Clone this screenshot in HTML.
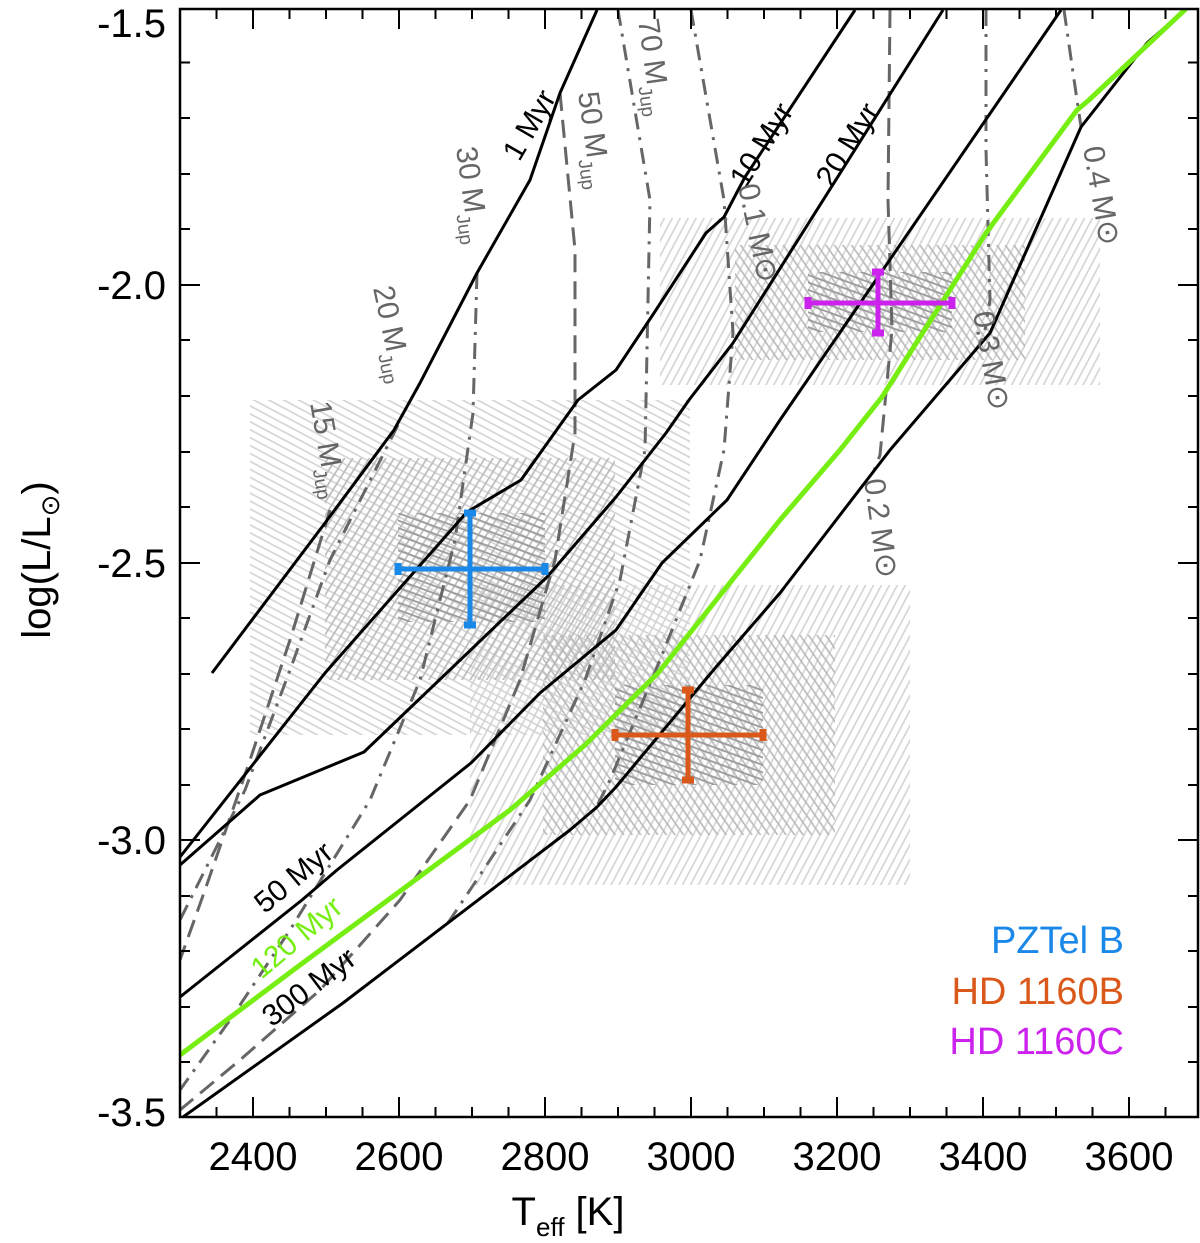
<!DOCTYPE html>
<html><head><meta charset="utf-8"><style>
html,body{margin:0;padding:0;background:#fff;}
svg{display:block;font-family:"Liberation Sans",Arial,sans-serif;}
</style></head><body>
<svg width="1200" height="1243" viewBox="0 0 1200 1243" xmlns="http://www.w3.org/2000/svg">
<defs>
<clipPath id="pc"><rect x="180" y="9" width="1018" height="1108"/></clipPath>
<clipPath id="tc"><polygon points="180,9 1198,9 1198,10 1185,10 1147,43 1081,127 990,333 890,450 780,593 716,667 616,787 597,807 570,830 343,1003 183,1117 180,1117"/></clipPath>
<pattern id="hA" width="7" height="7" patternUnits="userSpaceOnUse" patternTransform="rotate(28)"><line x1="0" y1="3" x2="7" y2="3" stroke="#d2d2d2" stroke-width="1.6"/></pattern>
<pattern id="hB" width="7" height="7" patternUnits="userSpaceOnUse" patternTransform="rotate(-58)"><line x1="0" y1="3" x2="7" y2="3" stroke="#b8b8b8" stroke-width="1.6"/></pattern>
<pattern id="hC" width="7" height="7" patternUnits="userSpaceOnUse" patternTransform="rotate(20)"><line x1="0" y1="3" x2="7" y2="3" stroke="#9a9a9a" stroke-width="1.8"/></pattern>
<pattern id="hA2" width="7" height="7" patternUnits="userSpaceOnUse" patternTransform="rotate(-62)"><line x1="0" y1="3" x2="7" y2="3" stroke="#d2d2d2" stroke-width="1.6"/></pattern>
<pattern id="hB2" width="7" height="7" patternUnits="userSpaceOnUse" patternTransform="rotate(55)"><line x1="0" y1="3" x2="7" y2="3" stroke="#b8b8b8" stroke-width="1.6"/></pattern>
</defs>

<g clip-path="url(#pc)">
<rect x="250" y="400" width="440" height="335" fill="url(#hA)"/>
<rect x="470" y="585" width="440" height="300" fill="url(#hA2)"/>
<rect x="660" y="218" width="440" height="167" fill="url(#hA2)"/>
<rect x="325" y="458" width="290" height="222" fill="url(#hB)"/>
<rect x="543" y="635" width="292" height="200" fill="url(#hB2)"/>
<rect x="735" y="245" width="290" height="115" fill="url(#hB2)"/>
<rect x="398" y="513" width="147" height="109" fill="url(#hC)"/>
<rect x="615" y="685" width="148" height="100" fill="url(#hC)"/>
<rect x="808" y="272" width="144" height="60" fill="url(#hC)"/>

<g fill="none" stroke="#666" stroke-width="3" clip-path="url(#tc)">
<polyline stroke-dasharray="18,9" points="330,510 290,640 250,760 205,890 180,960"/>
<polyline stroke-dasharray="16,8,3,8" points="398,425 330,560 290,670 245,790 200,880 180,920"/>
<polyline stroke-dasharray="16,8,3,8" points="477,273 473,413 455,540 420,680 370,800 290,930 230,1020 180,1090"/>
<polyline stroke-dasharray="18,9" points="560,93 575,250 575,433 555,560 520,680 470,800 400,900 320,990 240,1060 180,1110"/>
<polyline stroke-dasharray="16,8,3,8" points="618,10 650,200 645,450 620,580 585,680 530,800 450,920 370,1020 290,1100 270,1117"/>
<polyline stroke-dasharray="16,8,3,8" points="691,10 724,200 733,333 724,450 700,560 660,660 610,780 560,880 500,980 440,1070 410,1117"/>
<polyline stroke-dasharray="18,9" points="890,10 888,200 892,330 880,455 840,560 770,690 700,800 640,880 590,950 540,1040 500,1117"/>
<polyline stroke-dasharray="16,8,3,8" points="986,10 986,150 990,300 985,330"/>
<polyline stroke-dasharray="16,8,3,8" points="1064,10 1077,100 1083,140"/>
</g>

<g fill="none" stroke="#000" stroke-width="3" stroke-linejoin="round">
<polyline points="212,673 325,523 394,430 420,383 477,273 530,180 560,93 597,10"/>
<polyline points="180,857 325,673 467,512 521,480 578,400 616,370 654,313 706,233 724,217 745,177 855,10"/>
<polyline points="180,865 260,795 364,752 547,577 616,497 666,433 689,400 733,343 943,10"/>
<polyline points="180,997 302,900 337,870 471,763 540,693 616,630 662,563 727,500 780,420 878,277 1061,10"/>
<polyline points="183,1117 343,1003 570,830 597,807 616,787 716,667 780,593 890,450 990,333 1081,127 1147,43 1185,10"/>
</g>
<polyline fill="none" stroke="#77ee11" stroke-width="5" stroke-linejoin="round" points="180,1055 300,965 510,810 585,745 658,673 674,653 780,520 840,450 882,397 986,233 1077,110 1089,100 1190,5"/>
</g>

<g stroke-width="5" fill="none">
<g stroke="#1a88e8">
<line x1="398" y1="569" x2="545" y2="569"/><line x1="470" y1="513" x2="470" y2="625"/>
<line x1="398" y1="563" x2="398" y2="575" stroke-width="7"/><line x1="545" y1="563" x2="545" y2="575" stroke-width="7"/>
<line x1="464" y1="513" x2="476" y2="513" stroke-width="7"/><line x1="464" y1="625" x2="476" y2="625" stroke-width="7"/>
</g>
<g stroke="#d9581a">
<line x1="615" y1="735" x2="763" y2="735"/><line x1="688" y1="690" x2="688" y2="780"/>
<line x1="615" y1="729" x2="615" y2="741" stroke-width="7"/><line x1="763" y1="729" x2="763" y2="741" stroke-width="7"/>
<line x1="682" y1="690" x2="694" y2="690" stroke-width="7"/><line x1="682" y1="780" x2="694" y2="780" stroke-width="7"/>
</g>
<g stroke="#cc22ee">
<line x1="808" y1="303" x2="952" y2="303"/><line x1="878" y1="272" x2="878" y2="333"/>
<line x1="808" y1="297" x2="808" y2="309" stroke-width="7"/><line x1="952" y1="297" x2="952" y2="309" stroke-width="7"/>
<line x1="872" y1="272" x2="884" y2="272" stroke-width="7"/><line x1="872" y1="333" x2="884" y2="333" stroke-width="7"/>
</g>
</g>

<g font-size="30" fill="#000">
<text transform="translate(538,130) rotate(-60)" text-anchor="middle">1 Myr</text>
<text transform="translate(770,150) rotate(-58)" text-anchor="middle">10 Myr</text>
<text transform="translate(856,150) rotate(-58)" text-anchor="middle">20 Myr</text>
<text transform="translate(300,885) rotate(-40)" text-anchor="middle">50 Myr</text>
<text transform="translate(303,945) rotate(-40)" text-anchor="middle" fill="#77ee11">120 Myr</text>
<text transform="translate(315,995) rotate(-37)" text-anchor="middle">300 Myr</text>
</g>
<g font-size="30" fill="#666">
<text transform="translate(456,148) rotate(82)">30 M<tspan font-size="19" dy="9">Jup</tspan></text>
<text transform="translate(578,93) rotate(82)">50 M<tspan font-size="19" dy="9">Jup</tspan></text>
<text transform="translate(638,20) rotate(82)">70 M<tspan font-size="19" dy="9">Jup</tspan></text>
<text transform="translate(373,288) rotate(78)">20 M<tspan font-size="19" dy="9">Jup</tspan></text>
<text transform="translate(310,403) rotate(80)">15 M<tspan font-size="19" dy="9">Jup</tspan></text>
<text transform="translate(738,186) rotate(78)">0.1 M⊙</text>
<text transform="translate(973,313) rotate(80)">0.3 M⊙</text>
<text transform="translate(864,480) rotate(82)">0.2 M⊙</text>
<text transform="translate(1083,148) rotate(80)">0.4 M⊙</text>
</g>

<g font-size="38" text-anchor="end">
<text x="1124" y="953" fill="#1a88e8">PZTel B</text>
<text x="1124" y="1004" fill="#d9581a">HD 1160B</text>
<text x="1124" y="1054" fill="#cc22ee">HD 1160C</text>
</g>

<rect x="180" y="9" width="1018" height="1108" fill="none" stroke="#000" stroke-width="2.5"/>
<g stroke="#000" stroke-width="2">
<g id="xt">
<line x1="216.5" y1="1117" x2="216.5" y2="1107"/><line x1="253" y1="1117" x2="253" y2="1097"/>
<line x1="289.5" y1="1117" x2="289.5" y2="1107"/><line x1="326" y1="1117" x2="326" y2="1107"/>
<line x1="362.5" y1="1117" x2="362.5" y2="1107"/><line x1="399" y1="1117" x2="399" y2="1097"/>
<line x1="435.5" y1="1117" x2="435.5" y2="1107"/><line x1="472" y1="1117" x2="472" y2="1107"/>
<line x1="508.5" y1="1117" x2="508.5" y2="1107"/><line x1="545" y1="1117" x2="545" y2="1097"/>
<line x1="581.5" y1="1117" x2="581.5" y2="1107"/><line x1="618" y1="1117" x2="618" y2="1107"/>
<line x1="654.5" y1="1117" x2="654.5" y2="1107"/><line x1="691" y1="1117" x2="691" y2="1097"/>
<line x1="727.5" y1="1117" x2="727.5" y2="1107"/><line x1="764" y1="1117" x2="764" y2="1107"/>
<line x1="800.5" y1="1117" x2="800.5" y2="1107"/><line x1="837" y1="1117" x2="837" y2="1097"/>
<line x1="873.5" y1="1117" x2="873.5" y2="1107"/><line x1="910" y1="1117" x2="910" y2="1107"/>
<line x1="946.5" y1="1117" x2="946.5" y2="1107"/><line x1="983" y1="1117" x2="983" y2="1097"/>
<line x1="1019.5" y1="1117" x2="1019.5" y2="1107"/><line x1="1056" y1="1117" x2="1056" y2="1107"/>
<line x1="1092.5" y1="1117" x2="1092.5" y2="1107"/><line x1="1129" y1="1117" x2="1129" y2="1097"/>
<line x1="1165.5" y1="1117" x2="1165.5" y2="1107"/>
</g>
<use href="#xt" transform="translate(0,1126) scale(1,-1)"/>
<g id="yt">
<line x1="180" y1="62.5" x2="190" y2="62.5"/><line x1="180" y1="118" x2="190" y2="118"/>
<line x1="180" y1="174" x2="190" y2="174"/><line x1="180" y1="229" x2="190" y2="229"/>
<line x1="180" y1="285" x2="200" y2="285"/>
<line x1="180" y1="340" x2="190" y2="340"/><line x1="180" y1="396" x2="190" y2="396"/>
<line x1="180" y1="452" x2="190" y2="452"/><line x1="180" y1="507" x2="190" y2="507"/>
<line x1="180" y1="563" x2="200" y2="563"/>
<line x1="180" y1="618" x2="190" y2="618"/><line x1="180" y1="674" x2="190" y2="674"/>
<line x1="180" y1="729" x2="190" y2="729"/><line x1="180" y1="785" x2="190" y2="785"/>
<line x1="180" y1="840" x2="200" y2="840"/>
<line x1="180" y1="896" x2="190" y2="896"/><line x1="180" y1="951" x2="190" y2="951"/>
<line x1="180" y1="1007" x2="190" y2="1007"/><line x1="180" y1="1062" x2="190" y2="1062"/>
</g>
<use href="#yt" transform="translate(1378,0) scale(-1,1)"/>
</g>

<g font-size="40" fill="#000">
<g text-anchor="middle">
<text x="253" y="1170">2400</text><text x="399" y="1170">2600</text><text x="545" y="1170">2800</text>
<text x="691" y="1170">3000</text><text x="837" y="1170">3200</text><text x="983" y="1170">3400</text>
<text x="1129" y="1170">3600</text>
</g>
<g text-anchor="end">
<text x="166" y="37">-1.5</text><text x="166" y="299">-2.0</text><text x="166" y="577">-2.5</text>
<text x="166" y="854">-3.0</text><text x="166" y="1126">-3.5</text>
</g>
<text x="568" y="1225" text-anchor="middle">T<tspan font-size="26" dy="11">eff</tspan><tspan dy="-11"> [K]</tspan></text>
<text transform="translate(50,560) rotate(-90)" text-anchor="middle">log(L/L<tspan font-size="26" dy="9">⊙</tspan><tspan dy="-9">)</tspan></text>
</g>
</svg>
</body></html>
